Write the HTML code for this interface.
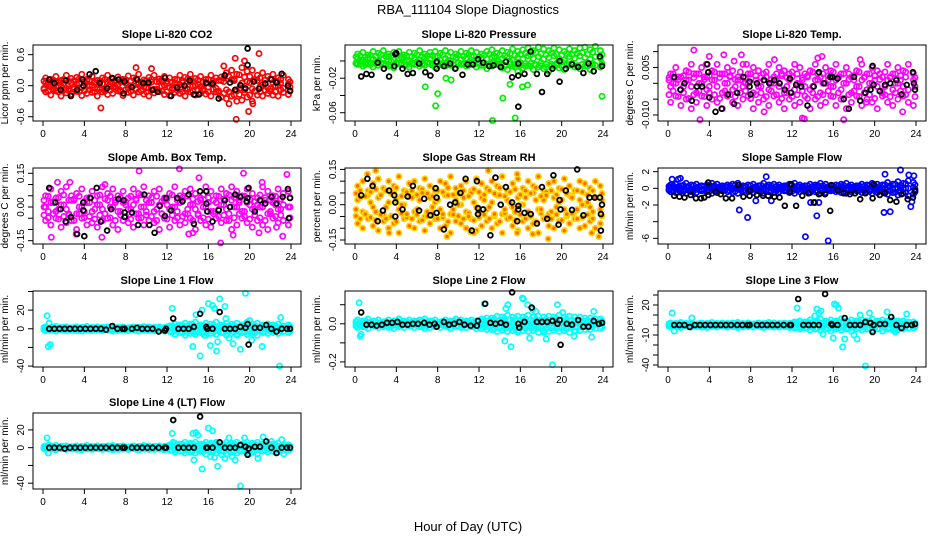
<!DOCTYPE html>
<html><head><meta charset="utf-8">
<style>
html,body{margin:0;padding:0;background:#fff;}
svg{display:block;font-family:"Liberation Sans",sans-serif;}
</style></head>
<body>
<svg id="chart" width="936" height="540" viewBox="0 0 936 540" xmlns="http://www.w3.org/2000/svg">
<rect width="936" height="540" fill="#fff"/>
<text x="468" y="14" font-size="13" text-anchor="middle">RBA_111104  Slope Diagnostics</text>
<text x="468" y="531" font-size="13" text-anchor="middle">Hour of Day (UTC)</text>
<g id="plots"></g>
</svg>
<script>
const hours48=[0.25,0.75,1.25,1.75,2.25,2.75,3.25,3.75,4.25,4.75,5.25,5.75,6.25,6.75,7.25,7.75,8.25,8.75,9.25,9.75,10.25,10.75,11.25,11.75,12.25,12.75,13.25,13.75,14.25,14.75,15.25,15.75,16.25,16.75,17.25,17.75,18.25,18.75,19.25,19.75,20.25,20.75,21.25,21.75,22.25,22.75,23.25,23.75];
const hoursB=[0.1,0.5,1.0,1.5,2.0,2.5,3.0,3.5,4.0,4.5,5.0,5.5,6.0,6.5,7.0,7.5,8.0,8.5,9.0,9.5,10.0,10.5,11.0,11.5,12.0,12.5,13.0,13.5,14.0,14.5,15.0,15.5,16.0,16.5,17.0,17.5,18.0,18.5,19.0,19.5,20.0,20.5,21.0,21.5,22.0,22.5,23.0,23.9];
const xTicks=[0,4,8,12,16,20,24];

// Panel 1 CO2
const co2Hi=[0.15,0.12,0.18,0.1,0.2,0.14,0.16,0.22,0.12,0.18,0.1,0.15,0.2,0.13,0.17,0.12,0.19,0.15,0.22,0.11,0.16,0.2,0.13,0.18,0.15,0.12,0.2,0.16,0.22,0.14,0.18,0.12,0.2,0.15,0.17,0.25,0.3,0.22,0.35,0.28,0.3,0.2,0.25,0.18,0.22,0.15,0.2,0.12];
const co2Lo=[-0.12,-0.18,-0.1,-0.2,-0.14,-0.16,-0.11,-0.19,-0.15,-0.13,-0.2,-0.12,-0.17,-0.15,-0.1,-0.19,-0.13,-0.18,-0.12,-0.16,-0.2,-0.14,-0.11,-0.17,-0.19,-0.13,-0.15,-0.2,-0.12,-0.18,-0.14,-0.16,-0.2,-0.12,-0.22,-0.25,-0.2,-0.3,-0.28,-0.22,-0.3,-0.18,-0.2,-0.15,-0.18,-0.2,-0.13,-0.17];
const co2Mid=[0.05,-0.02,0.08,0.0,-0.05,0.06,0.03,-0.04,0.1,0.01,-0.06,0.04,0.07,-0.03,0.02,0.09,-0.05,0.0,0.06,-0.02,0.04,-0.07,0.08,0.01,-0.04,0.05,0.02,-0.06,0.07,0.0,-0.03,0.06,0.03,-0.05,0.1,-0.08,0.12,-0.1,0.05,0.08,-0.06,0.1,0.02,-0.04,0.06,0.0,-0.05,0.03];
const co2OutH=[5.6,18.6,18.7,19.5,20.9,19.9,20.3,17.5,9.0,10.5,18.0];
const co2OutV=[-0.43,0.53,-0.65,0.48,0.62,-0.5,-0.35,0.38,0.35,0.33,-0.35];
const co2BlkH=[0.6,1.1,1.7,2.2,2.7,3.3,3.8,3.9,4.5,5.1,5.5,6.2,6.7,7.3,7.8,7.9,8.6,9.1,9.7,10.2,10.6,11.1,11.8,12.4,13.0,13.7,14.2,14.6,15.1,15.8,16.4,17.0,17.6,18.1,18.6,19.1,19.6,19.8,20.4,20.9,21.5,22.1,22.6,23.1,23.7,23.9,19.8];
const co2BlkV=[0.12,0.05,-0.08,0.1,-0.2,-0.08,0.12,0.0,0.22,0.28,0.05,-0.05,0.15,0.12,-0.15,0.08,-0.03,0.12,0.05,0.06,-0.08,-0.12,0.15,-0.2,-0.04,0.0,0.1,-0.17,-0.17,0.05,0.04,-0.25,0.2,0.06,-0.08,0.01,-0.05,0.4,0.08,-0.06,0.04,0.12,0.06,0.23,0.0,-0.1,0.72];
const co2Ticks=[-0.6,-0.3,0,0.3,0.6];
const co2TickLabels=["-0.6","","0.0","","0.6"];

// Panel 2 Pressure
const prHi=[0.008,0.01,0.007,0.011,0.009,0.012,0.008,0.01,0.011,0.007,0.01,0.009,0.012,0.008,0.01,0.011,0.009,0.012,0.01,0.008,0.011,0.009,0.012,0.01,0.008,0.011,0.013,0.009,0.012,0.01,0.014,0.011,0.013,0.015,0.012,0.016,0.014,0.012,0.015,0.013,0.011,0.014,0.012,0.015,0.016,0.013,0.017,0.012];
const prLo=[-0.004,-0.006,-0.003,-0.007,-0.005,-0.004,-0.006,-0.008,-0.003,-0.005,-0.007,-0.004,-0.006,-0.005,-0.003,-0.007,-0.004,-0.006,-0.005,-0.008,-0.004,-0.006,-0.003,-0.007,-0.005,-0.009,-0.006,-0.004,-0.008,-0.01,-0.006,-0.012,-0.008,-0.005,-0.01,-0.007,-0.009,-0.012,-0.006,-0.008,-0.01,-0.005,-0.007,-0.009,-0.006,-0.01,-0.005,-0.007];
const prMid=[0.003,0.001,0.004,0.002,0.0,0.003,0.005,0.001,0.002,0.004,0.0,0.003,0.001,0.004,0.002,0.005,0.001,0.003,0.0,0.004,0.002,0.003,0.005,0.001,0.003,0.002,0.004,0.0,0.003,0.005,0.001,0.004,0.002,0.006,0.003,0.005,0.002,0.004,0.006,0.003,0.001,0.005,0.003,0.006,0.004,0.002,0.005,0.003];
const prOutH=[6.8,8.0,7.8,13.3,15.5,14.3,15.0,16.2,23.9,8.8,9.3,16.7];
const prOutV=[-0.03,-0.038,-0.052,-0.069,-0.066,-0.043,-0.027,-0.03,-0.041,-0.02,-0.022,-0.028];
const prBlkH=[0.6,1.1,1.6,2.2,2.8,3.3,3.8,3.9,4.6,5.1,5.6,6.2,6.8,7.3,7.9,7.9,8.6,9.2,9.7,10.4,10.9,11.4,11.9,12.4,13.0,13.4,14.1,14.6,15.2,15.8,15.8,16.4,17.0,17.6,18.1,18.6,19.1,19.8,19.8,20.4,21.0,21.6,22.1,22.6,23.1,23.7,23.9,15.8,4.0];
const prBlkV=[-0.018,-0.015,-0.016,-0.002,-0.009,-0.018,-0.006,0.008,-0.009,-0.015,-0.014,-0.003,-0.013,-0.017,-0.001,-0.009,-0.006,-0.003,-0.009,-0.016,-0.004,-0.004,0.002,-0.002,-0.006,-0.005,-0.007,-0.001,-0.019,-0.017,-0.003,-0.015,0.011,-0.015,-0.036,-0.015,-0.009,-0.024,0.0,-0.009,-0.004,-0.007,-0.014,-0.003,-0.012,0.005,-0.006,-0.053,0.009];
const prTicks=[0,-0.02,-0.04,-0.06];
const prTickLabels=["","-0.02","","-0.06"];

// Panel 3 Temp
const tpHi=[0.003,0.005,0.002,0.004,0.006,0.003,0.005,0.002,0.004,0.006,0.003,0.005,0.004,0.002,0.006,0.003,0.005,0.004,0.003,0.006,0.002,0.005,0.004,0.003,0.006,0.005,0.003,0.004,0.006,0.002,0.005,0.004,0.006,0.003,0.005,0.002,0.004,0.006,0.003,0.005,0.004,0.002,0.006,0.003,0.005,0.004,0.006,0.003];
const tpLo=[-0.006,-0.004,-0.007,-0.005,-0.008,-0.006,-0.004,-0.007,-0.005,-0.006,-0.008,-0.004,-0.006,-0.007,-0.005,-0.004,-0.008,-0.006,-0.005,-0.007,-0.004,-0.006,-0.008,-0.005,-0.007,-0.006,-0.004,-0.008,-0.005,-0.007,-0.006,-0.004,-0.007,-0.005,-0.008,-0.006,-0.004,-0.007,-0.005,-0.006,-0.008,-0.004,-0.006,-0.007,-0.005,-0.004,-0.006,-0.007];
const tpMid=[-0.001,0.0,-0.002,0.001,-0.001,-0.003,0.0,-0.002,0.001,-0.001,-0.003,0.0,-0.002,0.001,-0.001,0.0,-0.003,-0.001,0.001,-0.002,0.0,-0.001,-0.003,0.001,-0.002,0.0,-0.001,-0.002,0.001,-0.003,0.0,-0.001,0.001,-0.002,0.0,-0.003,-0.001,0.001,-0.002,0.0,-0.001,-0.003,0.001,-0.002,0.0,-0.001,-0.002,0.001];
const tpOutH=[2.5,3.1,3.7,4.0,5.4,6.4,7.1,7.6,9.3,13.0,13.2,14.5,17.0,18.6,22.7,14.9,10.3,19.2];
const tpOutV=[0.0105,-0.0115,0.006,0.0085,0.009,0.007,0.009,0.006,-0.009,-0.011,-0.0112,0.008,-0.0115,0.0075,-0.009,0.0085,0.0075,-0.006];
const tpBlkH=[0.6,1.2,1.6,2.3,2.8,3.3,3.8,3.9,4.0,4.6,5.2,5.8,6.4,6.7,7.3,7.9,7.9,8.0,8.6,9.3,9.8,10.3,10.8,11.3,11.8,11.9,12.4,12.9,13.5,14.1,14.6,15.1,15.7,15.9,16.4,17.0,17.5,18.0,18.6,19.1,19.6,19.8,19.9,20.5,21.0,21.5,22.1,22.6,23.1,23.7,23.9,23.8];
const tpBlkV=[0.002,-0.002,0.0,-0.0055,-0.001,-0.001,0.006,0.0035,-0.0045,-0.009,-0.008,-0.0035,-0.0065,-0.003,0.002,-0.001,0.0005,-0.0035,0.0,0.001,0.0,0.001,0.0,-0.002,0.0015,-0.003,-0.0005,-0.001,-0.007,-0.001,0.0035,0.0,0.002,0.002,0.0015,-0.005,-0.008,0.002,-0.0055,-0.003,-0.002,0.0055,-0.0005,-0.0025,-0.0005,0.0,0.001,-0.0035,-0.0005,0.0035,-0.002,0.0];
const tpTicks=[0.01,0.005,0,-0.005,-0.01];
const tpTickLabels=["","0.005","","","-0.010"];

// Panel 4 Amb Box Temp
const abHi=[0.05,0.08,0.04,0.07,0.09,0.05,0.06,0.08,0.04,0.07,0.05,0.09,0.06,0.08,0.05,0.07,0.04,0.08,0.06,0.09,0.05,0.07,0.08,0.04,0.06,0.09,0.05,0.07,0.08,0.06,0.04,0.09,0.07,0.05,0.08,0.06,0.09,0.07,0.05,0.08,0.06,0.04,0.09,0.07,0.05,0.08,0.06,0.07];
const abLo=[-0.06,-0.08,-0.05,-0.09,-0.07,-0.06,-0.1,-0.05,-0.08,-0.07,-0.09,-0.06,-0.05,-0.08,-0.1,-0.06,-0.07,-0.09,-0.05,-0.08,-0.06,-0.07,-0.1,-0.05,-0.09,-0.06,-0.08,-0.07,-0.05,-0.1,-0.06,-0.08,-0.09,-0.05,-0.07,-0.06,-0.1,-0.08,-0.05,-0.07,-0.09,-0.06,-0.08,-0.1,-0.05,-0.07,-0.06,-0.08];
const abMid=[0.0,0.02,-0.02,0.01,-0.01,0.03,-0.03,0.0,0.02,-0.02,0.01,-0.01,0.03,0.0,-0.02,0.02,-0.01,0.01,-0.03,0.0,0.02,-0.02,0.01,0.03,-0.01,0.0,0.02,-0.03,0.01,-0.01,0.03,0.0,-0.02,0.02,0.01,-0.01,0.03,0.0,-0.02,0.02,-0.01,0.01,0.0,-0.03,0.02,-0.01,0.01,0.0];
const abOutH=[0.8,1.4,2.6,5.7,9.3,13.2,14.1,14.5,15.1,17.2,18.4,19.4,20.9,21.2,22.6,23.2,23.6,3.2,6.0];
const abOutV=[-0.135,0.11,0.11,-0.135,0.16,0.17,-0.12,-0.115,0.13,-0.16,-0.125,0.15,-0.115,0.11,-0.09,-0.13,0.145,-0.12,0.1];
const abBlkH=[0.6,1.2,1.7,2.2,2.7,3.3,3.9,3.9,4.0,4.6,5.2,5.6,6.2,6.6,7.3,7.8,7.9,7.9,8.6,9.2,9.8,10.3,10.8,11.3,11.8,11.9,12.4,13.0,13.5,14.1,14.6,15.2,15.8,15.8,15.9,16.4,17.0,17.6,18.1,18.6,19.1,19.7,19.8,19.9,20.5,21.0,21.5,22.1,22.6,23.2,23.7,23.8,23.9];
const abBlkV=[0.085,0.02,-0.01,-0.065,-0.045,-0.12,0.02,-0.015,-0.13,0.04,0.085,-0.065,-0.105,-0.01,0.035,0.03,-0.025,-0.045,-0.025,-0.08,0.055,-0.08,-0.115,0.005,-0.04,0.04,-0.015,0.04,0.025,0.055,-0.075,0.07,0.07,0.015,-0.02,-0.065,-0.015,0.03,0.0,0.055,0.045,0.025,0.04,0.085,-0.02,0.03,0.015,0.045,0.015,0.045,0.08,-0.05,0.04];
const abTicks=[0.15,0.1,0.05,0,-0.05,-0.1,-0.15];
const abTickLabels=["0.15","","","0.00","","","-0.15"];

// Panel 5 RH
const rhHi=[0.08,0.1,0.06,0.09,0.11,0.07,0.1,0.08,0.12,0.06,0.09,0.1,0.07,0.11,0.08,0.06,0.1,0.09,0.12,0.07,0.08,0.1,0.06,0.11,0.09,0.07,0.1,0.08,0.12,0.06,0.09,0.11,0.07,0.1,0.08,0.12,0.06,0.09,0.1,0.07,0.11,0.08,0.06,0.1,0.09,0.07,0.1,0.08];
const rhLo=[-0.08,-0.1,-0.06,-0.09,-0.11,-0.07,-0.1,-0.08,-0.12,-0.06,-0.09,-0.1,-0.07,-0.11,-0.08,-0.06,-0.1,-0.09,-0.12,-0.07,-0.08,-0.1,-0.06,-0.11,-0.09,-0.07,-0.1,-0.08,-0.12,-0.06,-0.09,-0.11,-0.07,-0.1,-0.08,-0.12,-0.06,-0.09,-0.1,-0.07,-0.11,-0.08,-0.06,-0.1,-0.09,-0.07,-0.1,-0.08];
const rhMid=[0.02,-0.03,0.04,-0.01,0.03,-0.04,0.01,0.05,-0.02,0.0,0.04,-0.03,0.02,-0.05,0.03,0.01,-0.02,0.04,-0.04,0.02,0.0,-0.03,0.05,-0.01,0.03,-0.02,0.01,0.04,-0.04,0.02,-0.01,0.03,0.0,-0.03,0.05,-0.02,0.02,-0.04,0.03,0.01,-0.02,0.04,-0.03,0.02,0.0,-0.01,0.03,-0.02];
const rhOutH=[2.0,3.3,8.9,12.9,15.7,15.7,18.7,23.6,17.2,11.2,11.5,22.9,1.2];
const rhOutV=[0.145,-0.12,-0.135,0.145,0.13,-0.12,-0.145,-0.135,-0.125,-0.115,-0.12,-0.12,0.13];
const rhBlkH=[0.6,1.2,1.7,2.2,2.7,3.3,3.8,3.9,3.9,4.6,5.1,5.6,6.2,6.7,7.3,7.8,7.9,7.9,8.6,9.2,9.7,10.2,10.7,11.3,11.8,11.9,11.9,12.4,13.1,13.6,14.1,14.6,15.2,15.7,15.8,15.8,16.4,17.0,17.6,18.1,18.6,19.2,19.7,19.8,19.9,20.4,21.0,21.5,22.1,22.7,23.2,23.7,23.8,23.8,23.9];
const rhBlkV=[0.04,0.11,0.08,-0.07,-0.025,0.06,0.04,0.01,-0.05,-0.02,0.035,0.08,-0.025,0.025,-0.045,0.07,0.03,-0.035,-0.105,0.0,0.01,0.05,0.11,-0.11,0.1,-0.015,-0.04,-0.02,-0.13,0.115,0.0,0.075,0.01,-0.07,-0.02,-0.005,-0.035,-0.04,-0.08,0.075,-0.06,0.125,-0.085,0.02,-0.02,0.06,-0.022,0.15,-0.045,0.03,0.03,0.03,-0.04,-0.11,0.0];
const rhTicks=[0.15,0.1,0.05,0,-0.05,-0.1,-0.15];
const rhTickLabels=["0.15","","","0.00","","","-0.15"];

// Panel 6 Sample Flow
const sfHi=[0.4,0.5,0.3,0.6,0.4,0.5,0.3,0.4,0.6,0.5,0.3,0.4,0.5,0.6,0.3,0.4,0.5,0.3,0.6,0.4,0.5,0.4,0.3,0.5,0.6,0.4,0.3,0.5,0.4,0.6,0.5,0.3,0.4,0.5,0.6,0.4,0.3,0.5,0.4,0.6,0.5,0.4,0.7,0.5,0.8,0.6,0.9,0.7];
const sfLo=[-0.4,-0.5,-0.3,-0.6,-0.4,-0.5,-0.3,-0.4,-0.6,-0.5,-0.3,-0.4,-0.5,-0.6,-0.3,-0.4,-0.5,-0.3,-0.6,-0.4,-0.5,-0.4,-0.3,-0.5,-0.6,-0.4,-0.3,-0.5,-0.4,-0.6,-0.5,-0.3,-0.4,-0.5,-0.6,-0.4,-0.3,-0.5,-0.4,-0.6,-0.5,-0.4,-0.7,-0.5,-0.8,-0.6,-0.9,-0.7];
const sfMid=[0.1,-0.1,0.0,0.15,-0.05,0.05,-0.15,0.1,0.0,-0.1,0.05,0.15,-0.05,0.0,0.1,-0.15,0.05,-0.1,0.0,0.15,-0.05,0.1,0.0,-0.1,0.05,0.15,-0.05,0.0,0.1,-0.15,0.05,-0.1,0.0,0.15,-0.05,0.1,0.0,-0.1,0.05,0.15,-0.05,0.0,0.1,-0.15,0.05,-0.1,0.0,0.1];
const sfOutH=[0.4,1.0,1.2,6.9,7.7,8.5,9.5,10.0,13.3,13.8,14.2,14.4,14.6,15.5,20.9,21.0,21.5,22.5,23.3,23.5,23.6,23.8];
const sfOutV=[1.1,1.1,1.2,-2.6,-3.5,-1.5,1.4,-1.5,-5.8,-1.7,-1.7,-3.3,-1.7,-6.3,-2.9,1.7,-2.8,2.2,1.6,-2.2,-1.6,1.5];
const sfBlkH=[0.6,1.1,1.6,2.2,2.7,3.2,3.5,3.9,3.9,4.6,5.1,5.6,6.2,6.8,7.3,7.9,7.9,8.6,9.2,9.7,10.3,10.8,11.3,11.8,11.9,12.4,13.0,13.6,14.1,14.6,15.2,15.7,15.8,16.4,17.0,17.6,18.1,18.6,19.1,19.8,19.9,20.5,21.0,21.5,22.1,22.6,23.2,23.7,23.9];
const sfBlkV=[-0.9,-1.0,-1.1,-0.8,-1.2,-1.2,-1.1,-0.8,0.7,-0.4,-0.7,-1.2,-1.2,0.4,-1.0,-0.9,-0.2,-0.8,-0.9,-0.9,-1.0,-1.1,-2.1,-0.4,0.5,-2.1,-0.9,-0.6,-1.7,-0.7,-0.7,-2.7,0.4,-0.2,-0.6,-0.7,-0.6,-1.3,-0.6,-1.2,0.5,-0.8,-0.6,-1.4,-1.6,-0.7,-1.3,-1.1,-0.3];
const sfTicks=[2,0,-2,-4,-6];
const sfTickLabels=["2","0","-2","","-6"];

// Line flows shared black hours
const flowBlkH=[0.6,1.1,1.6,2.1,2.6,3.1,3.6,4.1,4.6,5.1,5.6,6.1,6.7,7.2,7.7,7.9,8.6,9.1,9.6,10.1,10.6,11.2,11.8,11.9,12.6,13.1,13.6,14.1,14.6,15.2,15.8,15.9,16.4,17.1,17.6,18.1,18.6,19.1,19.6,19.8,19.9,20.5,21.0,21.6,22.1,22.6,23.1,23.6,23.9];

// Panel 7 Line 1
const l1Hi=[2,1.5,2.5,1.5,2,1,2,1.5,2.5,1.5,2,1.5,2,2.5,1.5,2,1,2,1.5,2.5,2,1.5,2,1.5,3,5,4,6,5,7,4,6,5,7,4,6,5,6,4,7,5,6,4,5,4,5,3,4];
const l1Lo=[-2,-1.5,-2.5,-1,-2,-1.5,-2,-2.5,-1.5,-2,-1,-2,-1.5,-2.5,-2,-1.5,-2,-1,-2.5,-1.5,-2,-2,-1.5,-2.5,-3,-6,-4,-7,-5,-6,-4,-7,-5,-6,-4,-7,-5,-6,-4,-6,-5,-7,-4,-5,-4,-5,-3,-4];
const l1Mid=[0,0.5,-0.5,0,0.5,-0.5,0,0.5,-0.5,0,0.5,-0.5,0,0.5,-0.5,0,0.5,-0.5,0,0.5,-0.5,0,0.5,-0.5,1,-2,2,-1,3,-2,1,-3,2,-1,1,-2,2,-1,3,-2,1,-1,2,-1,1,-2,1,0];
const l1OutH=[0.4,0.5,0.6,0.7,12.5,14.5,14.8,15.2,15.4,16.0,16.2,16.4,16.6,16.8,17.1,17.6,18.0,18.4,19.1,19.6,20.0,21.2,22.9,23.0,14.6,15.6,16.9,17.7,18.8,20.2];
const l1OutV=[14,-19,6,-17,22,-19,15,-29,20,27,-18,25,22,-24,32,24,-10,-16,-22,38,9,-19,-40,12,-4,-7,-14,11,-7,-12];
const l1BlkV=[0,0,0,0,0,0,0,0,0,0,0,-1,3,0,0,0,0,1,0,0,0,-3,-2,0,11,0,0,0,2,16,2,0,0,18,0,0,0,2,1,5,-17,1,1,4,0,-3,0,0,0];
const l1Ticks=[40,20,0,-20,-40];
const l1TickLabels=["","20","0","","-40"];

// Panel 8 Line 2
const l2Hi=[0.02,0.015,0.025,0.015,0.02,0.01,0.02,0.015,0.025,0.015,0.02,0.015,0.02,0.025,0.015,0.02,0.01,0.02,0.015,0.025,0.02,0.015,0.02,0.015,0.025,0.03,0.03,0.04,0.035,0.045,0.035,0.04,0.035,0.045,0.035,0.04,0.035,0.04,0.035,0.045,0.035,0.04,0.035,0.035,0.03,0.03,0.025,0.025];
const l2Lo=[-0.02,-0.015,-0.025,-0.01,-0.02,-0.015,-0.02,-0.025,-0.015,-0.02,-0.01,-0.02,-0.015,-0.025,-0.02,-0.015,-0.02,-0.01,-0.025,-0.015,-0.02,-0.02,-0.015,-0.025,-0.025,-0.03,-0.03,-0.04,-0.035,-0.04,-0.035,-0.045,-0.035,-0.04,-0.035,-0.045,-0.035,-0.04,-0.035,-0.04,-0.035,-0.045,-0.035,-0.035,-0.03,-0.03,-0.025,-0.025];
const l2Mid=[0,0.005,-0.005,0,0.005,-0.005,0,0.005,-0.005,0,0.005,-0.005,0,0.005,-0.005,0,0.005,-0.005,0,0.005,-0.005,0,0.005,-0.005,0.01,-0.01,0.015,-0.01,0.015,-0.015,0.01,-0.015,0.015,-0.01,0.01,-0.015,0.015,-0.01,0.015,-0.015,0.01,-0.01,0.015,-0.01,0.01,-0.015,0.01,0];
const l2OutH=[0.4,0.5,0.6,12.5,14.5,14.6,14.8,15.1,16.2,16.3,16.7,16.9,17.2,17.5,18.3,18.5,19.1,19.6,20.1,21.2,22.9,23.1,15.8];
const l2OutV=[0.11,-0.065,-0.055,0.105,-0.09,0.08,0.1,-0.12,0.135,0.13,0.1,-0.075,0.075,0.065,-0.045,-0.08,-0.215,0.1,0.06,-0.065,-0.07,0.065,-0.035];
const l2BlkV=[0.06,-0.005,-0.005,-0.01,-0.005,0.005,0.005,0.01,-0.005,-0.005,0.0,0.0,0.005,-0.005,0.0,-0.015,0.01,-0.005,0.0,0.01,-0.005,-0.01,-0.01,0.015,0.105,0.005,0.0,0.005,-0.005,0.165,0.0,-0.02,0.01,0.085,0.01,0.01,0.01,0.015,0.0,0.02,-0.11,0.0,-0.005,0.02,-0.015,-0.015,0.015,0.0,0.005];
const l2Ticks=[0.1,0,-0.1,-0.2];
const l2TickLabels=["","0.0","","-0.2"];

// Panel 9 Line 3
const l3Hi=[2,1.5,2.5,1.5,2,1,2,1.5,2.5,1.5,2,1.5,2,2.5,1.5,2,1,2,1.5,2.5,2,1.5,2,1.5,3,4,3,5,4,6,4,5,4,6,4,5,4,5,4,6,4,5,4,5,4,4,3,3];
const l3Lo=[-2,-1.5,-2.5,-1,-2,-1.5,-2,-2.5,-1.5,-2,-1,-2,-1.5,-2.5,-2,-1.5,-2,-1,-2.5,-1.5,-2,-2,-1.5,-2.5,-3,-4,-3,-5,-4,-5,-4,-6,-4,-5,-4,-6,-4,-5,-4,-5,-4,-6,-4,-5,-4,-4,-3,-3];
const l3Mid=[0,0.5,-0.5,0,0.5,-0.5,0,0.5,-0.5,0,0.5,-0.5,0,0.5,-0.5,0,0.5,-0.5,0,0.5,-0.5,0,0.5,-0.5,1,-2,2,-1,2,-2,1,-2,2,-1,1,-2,2,-1,2,-2,1,-1,2,-1,1,-2,1,0];
const l3OutH=[0.4,0.6,2.3,12.5,14.4,14.6,14.8,16.0,16.1,16.3,16.5,16.9,17.1,18.0,18.3,18.6,19.1,19.5,21.2,22.0,22.2,23.1,14.2,15.0];
const l3OutV=[12,-6,7,17,16,12,14,-13,21,20,17,-22,-14,-10,-14,10,-41,12,13,-7,-5,11,9,-9];
const l3BlkV=[0,0,0,-2,0,0,0,0,0,0,0,0,0,0,0,0,0,0,0,0,0,0,0,0,26,0,0,0,0,31,1,0,0,7,0,0,0,3,2,-7,0,1,1,8,0,-3,0,0,1];
const l3Ticks=[30,20,10,0,-10,-20,-30,-40];
const l3TickLabels=["","20","","","-10","","","-40"];

// Panel 10 Line 4
const l4Hi=[2,1.5,2.5,1.5,2,1,2,1.5,2.5,1.5,2,1.5,2,2.5,1.5,2,1,2,1.5,2.5,2,1.5,2,1.5,3,5,4,6,5,6,4,6,5,6,4,6,5,6,4,6,5,6,4,5,4,5,3,3];
const l4Lo=[-2,-1.5,-2.5,-1,-2,-1.5,-2,-2.5,-1.5,-2,-1,-2,-1.5,-2.5,-2,-1.5,-2,-1,-2.5,-1.5,-2,-2,-1.5,-2.5,-3,-5,-4,-6,-5,-6,-4,-7,-5,-6,-4,-7,-5,-6,-4,-6,-5,-7,-4,-5,-4,-5,-3,-3];
const l4Mid=[0,0.5,-0.5,0,0.5,-0.5,0,0.5,-0.5,0,0.5,-0.5,0,0.5,-0.5,0,0.5,-0.5,0,0.5,-0.5,0,0.5,-0.5,1,-2,2,-1,3,-2,1,-3,2,-1,1,-2,2,-1,3,-2,1,-1,2,-1,1,-2,1,0];
const l4OutH=[0.4,0.5,0.6,12.5,12.6,14.5,14.6,14.8,15.0,15.4,16.0,16.2,16.4,16.6,16.9,17.3,17.6,18.0,18.3,18.6,19.1,19.5,20.0,20.8,21.3,22.1,23.1,23.3,15.2,16.8];
const l4OutV=[11,-6,3,16,6,16,-14,17,14,-24,22,-10,19,-11,-21,-8,-12,11,-10,-14,-43,11,-7,-12,12,7,9,-7,-4,5];
const l4BlkV=[0,0,0,-1,0,0,0,0,0,0,0,0,0,0,0,0,0,0,0,0,0,0,0,0,31,0,0,0,0,35,0,0,0,6,0,0,0,3,1,-8,-1,1,1,7,0,-6,0,0,0];
const l4Ticks=[20,0,-20,-40];
const l4TickLabels=["20","0","","-40"];

const panels=[
 {id:"co2",title:"Slope Li-820 CO2",ylab:"Licor ppm per min.",c:0,r:0,lo:-0.683,hi:0.787,ticks:co2Ticks,labels:co2TickLabels,col:"#ff0000",bh:co2Hi,bl:co2Lo,bm:co2Mid,oh:co2OutH,ov:co2OutV,kh:co2BlkH,kv:co2BlkV},
 {id:"pressure",title:"Slope Li-820 Pressure",ylab:"kPa per min.",c:1,r:0,lo:-0.0696,hi:0.0185,ticks:prTicks,labels:prTickLabels,col:"#00ee00",bh:prHi,bl:prLo,bm:prMid,oh:prOutH,ov:prOutV,kh:prBlkH,kv:prBlkV},
 {id:"temp",title:"Slope Li-820 Temp.",ylab:"degrees C per min.",c:2,r:0,lo:-0.0119,hi:0.0121,ticks:tpTicks,labels:tpTickLabels,col:"#ff00ff",bh:tpHi,bl:tpLo,bm:tpMid,oh:tpOutH,ov:tpOutV,kh:tpBlkH,kv:tpBlkV},
 {id:"amb-box",title:"Slope Amb. Box Temp.",ylab:"degrees C per min.",c:0,r:1,lo:-0.1647,hi:0.1736,ticks:abTicks,labels:abTickLabels,col:"#ff00ff",bh:abHi,bl:abLo,bm:abMid,oh:abOutH,ov:abOutV,kh:abBlkH,kv:abBlkV},
 {id:"rh",title:"Slope Gas Stream RH",ylab:"percent per min.",c:1,r:1,lo:-0.167,hi:0.156,ticks:rhTicks,labels:rhTickLabels,col:"#ffd200",fill:"#ff6a00",bh:rhHi,bl:rhLo,bm:rhMid,oh:rhOutH,ov:rhOutV,kh:rhBlkH,kv:rhBlkV},
 {id:"sample-flow",title:"Slope Sample Flow",ylab:"ml/min per min.",c:2,r:1,lo:-6.68,hi:2.44,ticks:sfTicks,labels:sfTickLabels,col:"#0000ff",bh:sfHi,bl:sfLo,bm:sfMid,oh:sfOutH,ov:sfOutV,kh:sfBlkH,kv:sfBlkV},
 {id:"line1",title:"Slope Line 1 Flow",ylab:"ml/min per min.",c:0,r:2,lo:-41,hi:40.5,ticks:l1Ticks,labels:l1TickLabels,col:"#00ffff",bh:l1Hi,bl:l1Lo,bm:l1Mid,oh:l1OutH,ov:l1OutV,kh:flowBlkH,kv:l1BlkV},
 {id:"line2",title:"Slope Line 2 Flow",ylab:"ml/min per min.",c:1,r:2,lo:-0.2266,hi:0.172,ticks:l2Ticks,labels:l2TickLabels,col:"#00ffff",bh:l2Hi,bl:l2Lo,bm:l2Mid,oh:l2OutH,ov:l2OutV,kh:flowBlkH,kv:l2BlkV},
 {id:"line3",title:"Slope Line 3 Flow",ylab:"ml/min per min.",c:2,r:2,lo:-42,hi:34,ticks:l3Ticks,labels:l3TickLabels,col:"#00ffff",bh:l3Hi,bl:l3Lo,bm:l3Mid,oh:l3OutH,ov:l3OutV,kh:flowBlkH,kv:l3BlkV},
 {id:"line4",title:"Slope Line 4 (LT) Flow",ylab:"ml/min per min.",c:0,r:3,lo:-46.5,hi:39,ticks:l4Ticks,labels:l4TickLabels,col:"#00ffff",bh:l4Hi,bl:l4Lo,bm:l4Mid,oh:l4OutH,ov:l4OutV,kh:flowBlkH,kv:l4BlkV}
];

const NS="http://www.w3.org/2000/svg";
const root=document.getElementById("plots");
const colX0=[43,355,668], rowTop=[45,168,291,413], BH=76, BW=268;
function mk(tag,attrs,parent){const e=document.createElementNS(NS,tag);for(const k in attrs)e.setAttribute(k,attrs[k]);parent.appendChild(e);return e;}

panels.forEach(p=>{
  const x0=colX0[p.c], top=rowTop[p.r], left=x0-10, bottom=top+BH;
  const xs=h=>x0+h*248/24;
  const ys=v=>top+(p.hi-v)/(p.hi-p.lo)*BH;
  const g=mk("g",{},root);
  
  
  const t=mk("text",{x:left+BW/2,y:top-7,"font-size":"11","font-weight":"bold","text-anchor":"middle"},g);
  t.textContent=p.title;
  
  
  const yl=mk("text",{transform:`translate(${left-25},${top+BH/2}) rotate(-90)`,"font-size":"10","text-anchor":"middle"},g);
  yl.textContent=p.ylab;
  
  
  const pts=mk("g",{fill:p.fill||"none",stroke:p.col,"stroke-width":"1.7"},g);
  
  
  [p.bh,p.bl,p.bm].forEach(arr=>arr.forEach((v,i)=>{
    const c=mk("circle",{cx:xs(hours48[i]).toFixed(1),cy:ys(v).toFixed(1),r:"2.6"},pts);
    
    
  }));
  // second sampling offset in time (band readings between primary samples)
  [p.bl,p.bh,p.bm].forEach((arr,k)=>arr.forEach((v,i)=>{
    const c=mk("circle",{cx:xs(hoursB[i]).toFixed(1),cy:ys(k===2?-v:v*0.6).toFixed(1),r:"2.6"},pts);
    
    
  }));
  p.oh.forEach((h,i)=>{
    const c=mk("circle",{cx:xs(h).toFixed(1),cy:ys(p.ov[i]).toFixed(1),r:"2.6"},pts);
    
    
  });
  const blk=mk("g",{fill:"none",stroke:"#000","stroke-width":"1.8"},g);
  
  
  p.kh.forEach((h,i)=>{
    const c=mk("circle",{cx:xs(h).toFixed(1),cy:ys(p.kv[i]).toFixed(1),r:"2.4"},blk);
    
    
  });
  const b=mk("rect",{x:left,y:top,width:BW,height:BH,fill:"none",stroke:"#000","stroke-width":"1"},g);
  
  
  const ya=mk("g",{stroke:"#000","stroke-width":"1"},g);
  
  
  p.ticks.forEach((tv,i)=>{
    const y=ys(tv);
    if(y<top-0.5||y>bottom+0.5)return;
    mk("line",{x1:left-5,x2:left,y1:y,y2:y},ya);
    if(p.labels[i]){
      const lt=mk("text",{transform:`translate(${left-9},${y}) rotate(-90)`,"font-size":"10","text-anchor":"middle",stroke:"none",fill:"#000"},ya);
      lt.textContent=p.labels[i];
      
      
    }
  });
  const xa=mk("g",{stroke:"#000","stroke-width":"1"},g);
  
  
  xTicks.forEach(h=>{
    const x=xs(h);
    mk("line",{x1:x,x2:x,y1:bottom,y2:bottom+5},xa);
    const lt=mk("text",{x:x,y:bottom+16,"font-size":"10","text-anchor":"middle",stroke:"none",fill:"#000"},xa);
    lt.textContent=String(h);
    
    
  });
});
</script>
</body></html>
